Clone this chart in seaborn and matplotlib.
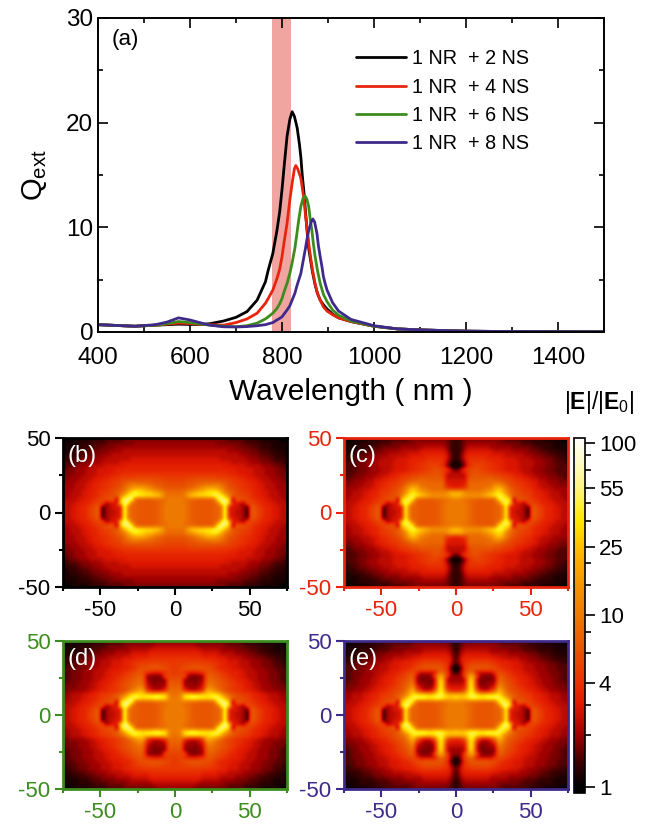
# Extinction spectra and near-field maps, 1 nanorod + nanospheres

import numpy as np
import pandas as pd
import matplotlib
matplotlib.use('Agg')
import matplotlib.pyplot as plt
import seaborn as sns
from matplotlib.cm import ScalarMappable
from matplotlib.colors import LinearSegmentedColormap, LogNorm
from matplotlib.ticker import MultipleLocator, NullFormatter

sns.set_theme(style='ticks')
plt.rcParams['font.family'] = ['Liberation Sans', 'DejaVu Sans']
plt.rcParams['axes.unicode_minus'] = False
plt.rcParams['mathtext.fontset'] = 'custom'
plt.rcParams['mathtext.rm'] = 'Liberation Sans'
plt.rcParams['mathtext.bf'] = 'Liberation Sans:bold'

W, H = 648, 826

# Panel (a) spectra
wl_2ns = [400, 480, 525, 550, 575, 600, 625, 644, 673, 700, 724, 746, 764, 770, 780, 789, 795, 800, 805, 811, 817, 822, 827, 833, 838, 841, 844, 848, 852, 855, 858, 862, 866, 872, 877, 883, 890, 898, 910, 923, 950, 1000, 1050, 1100, 1200, 1300, 1500]
q_2ns = [0.7, 0.55, 0.65, 0.7, 0.75, 0.72, 0.72, 0.8, 1.05, 1.4, 1.95, 3.05, 4.8, 5.9, 7.5, 9.7, 11.5, 13.6, 16.0, 18.7, 20.3, 21.05, 20.6, 19.5, 17.9, 16.7, 15.0, 13.2, 11.0, 9.4, 8.0, 6.9, 5.8, 4.5, 3.7, 3.05, 2.6, 2.2, 1.7, 1.35, 1.0, 0.55, 0.3, 0.2, 0.08, 0.04, 0.02]
wl_4ns = [400, 480, 525, 550, 575, 600, 625, 644, 673, 700, 724, 746, 764, 770, 780, 789, 795, 800, 805, 811, 817, 822, 827, 830, 834, 841, 848, 851, 855, 858, 862, 866, 872, 877, 883, 890, 898, 910, 923, 950, 1000, 1050, 1100, 1200, 1300, 1500]
q_4ns = [0.7, 0.55, 0.65, 0.75, 0.85, 0.8, 0.72, 0.7, 0.65, 0.9, 1.25, 1.8, 2.75, 3.2, 4.0, 5.1, 6.0, 7.2, 8.7, 10.4, 12.6, 14.2, 15.6, 15.9, 15.6, 14.7, 12.6, 11.2, 9.7, 8.5, 7.2, 6.0, 4.6, 3.7, 3.05, 2.4, 2.0, 1.65, 1.35, 1.0, 0.55, 0.3, 0.2, 0.08, 0.04, 0.02]
wl_6ns = [400, 480, 525, 550, 575, 600, 625, 644, 673, 700, 724, 746, 764, 770, 780, 789, 795, 800, 805, 811, 817, 822, 828, 833, 837, 841, 846, 850, 854, 858, 861, 865, 868, 872, 877, 883, 890, 898, 910, 923, 950, 1000, 1050, 1100, 1200, 1300, 1500]
q_6ns = [0.7, 0.55, 0.65, 0.8, 1.0, 0.9, 0.75, 0.65, 0.55, 0.5, 0.6, 0.85, 1.25, 1.45, 1.8, 2.25, 2.7, 3.2, 3.9, 4.65, 5.6, 6.6, 8.0, 9.6, 10.9, 12.0, 12.8, 13.0, 12.7, 12.0, 10.9, 9.7, 8.5, 7.2, 5.9, 4.65, 3.6, 2.9, 2.1, 1.6, 1.05, 0.55, 0.3, 0.2, 0.08, 0.04, 0.02]
wl_8ns = [400, 480, 525, 550, 575, 600, 625, 644, 673, 700, 724, 746, 764, 780, 789, 795, 800, 805, 811, 817, 822, 828, 833, 841, 846, 851, 854, 858, 864, 867, 871, 876, 879, 883, 887, 890, 894, 898, 910, 923, 950, 1000, 1050, 1100, 1200, 1300, 1500]
q_8ns = [0.7, 0.55, 0.7, 0.95, 1.35, 1.15, 0.85, 0.65, 0.5, 0.48, 0.52, 0.6, 0.7, 0.9, 1.15, 1.3, 1.45, 1.75, 2.1, 2.5, 3.05, 3.7, 4.5, 5.6, 6.8, 8.0, 8.8, 9.7, 10.6, 10.8, 10.5, 9.4, 8.3, 7.2, 6.2, 5.3, 4.6, 4.0, 2.8, 2.0, 1.2, 0.6, 0.3, 0.2, 0.08, 0.04, 0.02]

series_names = ['1 NR  + 2 NS', '1 NR  + 4 NS', '1 NR  + 6 NS', '1 NR  + 8 NS']
series_colors = ['#000000', '#e8250c', '#3c8c1e', '#3f2a8c']
band_nm = [779, 820]

# Field maps, upper right quadrant read by eye, one letter per 2.5 nm cell.
# Rows y = 48.75 ... 1.25, cols x = 1.25 ... 73.75 nm, letters index field_levels.
level_keys = '0123456789abcdefghijklmnopqr'
field_levels = [1.0, 1.15, 1.3, 1.5, 1.75, 2.0, 2.4, 2.9, 3.4, 3.9, 4.5, 5.1, 5.8, 6.5, 7.3, 8, 9, 10, 12, 15, 20, 25, 30, 35, 40, 50, 60, 75]

field_b = [
    '444444444444443333322221111100',
    '555555555554444444333322221111',
    '555555555555555544443332221111',
    '666666666666665555444433322211',
    '666666666666666665554443332221',
    '777777777777666666655544433222',
    '777777777777777666665554443332',
    '888888888888877777766665554433',
    '888888888888888877777666555443',
    '999999999999998887777666555444',
    'aaaabbbbbbbaaaa998877766655544',
    'bbbcccdddddddcbaa9988776665554',
    'cccddeffgghhfecbaa998877666555',
    'dddefgijkkkjifdcba998877666555',
    'ffgijkllmnonkhfdcbaa9887766655',
    'gggkmmnnooppolhecbba9887766655',
    'hhgfeeddddepqpn2edcba988776665',
    'hhgfedddddefpqn7765cba98877666',
    'hhhfedddddeegr777652eca9887766',
    'hhhfedddddeehr776651ecb9887766',
]
field_c = [
    '234444444444433333222221111100',
    '234555555554444443333222221111',
    '235666666555555444443332221111',
    '236777777766666555544433322211',
    '247888888777766666555444333222',
    '247999998888777766665554443322',
    '1369aaaa9988877776666555443332',
    '0159abbaa998877776666555444333',
    '37abccbaa998877776665554443333',
    '667bcdccbbaa998877666555444333',
    '666cddddddccbaa988776655544433',
    '777eeeeeffeedcba99887766555444',
    '778ffffffgiigecbaa988766655544',
    '89affffghiklkhecba998776665555',
    'kkihhhhijklnlifdcbaa9887766655',
    'lkjjjjjklmopolhecbba9887766655',
    'hhgfeeddddeopon2edcba988776665',
    'hhgfedddddefopn7765cba98877666',
    'hhhfedddddeegq777652eca9887766',
    'hhhfedddddeehq776651ecb9887766',
]
field_d = [
    '555554444444443333322221111100',
    '666666555555544444333322221111',
    '777777766666555544443332221111',
    '888888877777666655544433322211',
    '999999988887776666555444333222',
    'aaaaaaaaa999887776665554443322',
    'aabbcccbbba9887776665554443332',
    'abcdddddcca9888777666555444333',
    'ab987789cdcba98887766655544433',
    'bbc54445dedcba9887766655544433',
    'cd544455efedcba988776655544433',
    'de555456fgfedcba98877665554443',
    'ef655567higedcba99877665554444',
    'fga7667akkjhecba99887766555544',
    'ghmnonnnmnonkhfdcbaa9887766655',
    'hinoppoonoppolhecbba9887766655',
    'hhgfeeddddepqpn2edcba988776665',
    'hhgfedddddefpqn7765cba98877666',
    'hhhfedddddeegr777652eca9887766',
    'hhhfedddddeehr776651ecb9887766',
]
field_e = [
    '234444444444333333322221111100',
    '245555555554444443333222221111',
    '256666666555554444333322221111',
    '367777777666665555544433322211',
    '378888888877666665554443332222',
    '4799aaaaa998887776655544433322',
    '26abcccccba9888777666555444333',
    '04acdddddcca988777666555444333',
    '26bef766669cba9887766655544433',
    '55cjkc54446edba988776655544433',
    '556lm644445fecba98877665554433',
    '667mn744556hfdca98877665554443',
    '778mn855569jgecba9887766555444',
    '89enog766aeljfdcba988776655544',
    'lllopnmmnnonkhfdcbaa9887766655',
    'mlmoppooppppolhecbba9887766655',
    'hhgfeeddddeopon2edcba988776665',
    'hhgfedddddefpqn7765cba98877666',
    'hhhfedddddeegq777652eca9887766',
    'hhhfedddddeehq776651ecb9887766',
]
panel_letters = ['(b)', '(c)', '(d)', '(e)']
panel_fields = [field_b, field_c, field_d, field_e]
# left, top, right, bottom of each map in pixels
panel_boxes = [(63, 438, 287, 587), (344, 438, 568, 587), (63, 641, 287, 789), (344, 641, 568, 789)]

# Colour scale of the maps
cbar_ticks = [1, 4, 10, 25, 55, 100]
cbar_minor = [2, 3, 6, 8, 15, 20, 35, 45, 70, 85]
cbar_range = [0.92, 107]
scale_values = [0.92, 1, 1.4, 2, 3, 4, 6, 10, 15, 20, 25, 35, 45, 55, 70, 107]
scale_colors = ['#000000', '#000000', '#400000', '#a00000', '#e01800', '#ea3000', '#e85000', '#ef7a00',
                '#f59500', '#fbaa00', '#ffc000', '#ffe600', '#fff040', '#fff480', '#fff9b0', '#ffffff']


def add_axes_px(fig, left, top, right, bottom):
    return fig.add_axes([left / W, 1 - bottom / H, (right - left) / W, (bottom - top) / H])


def read_quadrant(rows):
    return np.array([[field_levels[level_keys.index(c)] for c in row] for row in rows])


log_lo, log_hi = np.log10(cbar_range)
stops = [(np.log10(v) - log_lo) / (log_hi - log_lo) for v in scale_values]
field_cmap = LinearSegmentedColormap.from_list('field', list(zip(stops, scale_colors)), N=512)

fig = plt.figure(figsize=(W / 100, H / 100), dpi=100, facecolor='white')

# Panel (a)
frames = []
for name, wl, q in zip(series_names, [wl_2ns, wl_4ns, wl_6ns, wl_8ns], [q_2ns, q_4ns, q_6ns, q_8ns]):
    frames.append(pd.DataFrame({'wavelength': wl, 'qext': q, 'series': name}))
df = pd.concat(frames)

ax = add_axes_px(fig, 98, 18, 604, 332)
ax.axvspan(band_nm[0], band_nm[1], color='#f0a5a0', lw=0, zorder=0)
sns.lineplot(data=df, x='wavelength', y='qext', hue='series', palette=series_colors, estimator=None,
             sort=False, linewidth=2.0, ax=ax)
ax.set_xlim(400, 1500)
ax.set_ylim(0, 30)
ax.xaxis.set_minor_locator(MultipleLocator(100))
ax.yaxis.set_major_locator(MultipleLocator(10))
ax.yaxis.set_minor_locator(MultipleLocator(5))
ax.set_xticks([400, 600, 800, 1000, 1200, 1400])
ax.tick_params(which='major', direction='in', top=True, right=True, length=7, width=1.2,
               labelsize=17.5, color='black', labelcolor='black')
ax.tick_params(axis='x', which='major', pad=11)
ax.tick_params(which='minor', direction='in', top=True, right=True, length=3.5, width=1.2, color='black')
for s in ax.spines.values():
    s.set_linewidth(1.4)
    s.set_color('black')
ax.set_xlabel('Wavelength ( nm )', fontsize=21.5, labelpad=6, color='black')
ax.set_ylabel(r'Q$_{\mathrm{ext}}$', fontsize=21, labelpad=12, color='black')
ax.text(112 / W, 1 - 40 / H, '(a)', transform=fig.transFigure, fontsize=16, va='center', color='black')
ax.legend(frameon=False, loc='upper left', bbox_to_anchor=(0.51, 0.90), fontsize=14.2, handlelength=2.55,
          handletextpad=0.3, labelspacing=0.47, borderpad=0, borderaxespad=0)
for line in ax.get_legend().get_lines():
    line.set_linewidth(2.0)
for t in ax.get_legend().get_texts():
    t.set_color('black')

# Panels (b) to (e), quadrants mirrored into the full map
for letter, field, box, color in zip(panel_letters, panel_fields, panel_boxes, series_colors):
    quad = read_quadrant(field)
    upper = np.hstack([quad[:, ::-1], quad])
    full = np.vstack([upper, upper[::-1]])
    axm = add_axes_px(fig, *box)
    axm.imshow(np.log10(full), extent=[-75, 75, -50, 50], aspect='auto', cmap=field_cmap,
               vmin=log_lo, vmax=log_hi, interpolation='bicubic')
    axm.set_xticks([-50, 0, 50])
    axm.set_yticks([-50, 0, 50])
    axm.set_xticks([-75, -25, 25, 75], minor=True)
    axm.set_yticks([-25, 25], minor=True)
    axm.set_xlim(-75, 75)
    axm.set_ylim(-50, 50)
    axm.tick_params(which='major', direction='out', length=6, width=1.5, color=color,
                    labelcolor=color, labelsize=16)
    axm.tick_params(axis='x', which='major', pad=3)
    axm.tick_params(axis='y', which='major', pad=3)
    axm.tick_params(which='minor', direction='out', length=3, width=1.5, color=color)
    axm.grid(False)
    for s in axm.spines.values():
        s.set_linewidth(2)
        s.set_color(color)
    axm.text(0.02, 0.955, letter, transform=axm.transAxes, color='white', fontsize=17, va='top')

# Colour bar
cax = add_axes_px(fig, 574, 438, 585, 793)
cb = fig.colorbar(ScalarMappable(norm=LogNorm(*cbar_range), cmap=field_cmap), cax=cax)
cb.set_ticks(cbar_ticks)
cb.set_ticklabels([str(v) for v in cbar_ticks])
cax.yaxis.set_ticks(cbar_minor, minor=True)
cax.yaxis.set_minor_formatter(NullFormatter())
cax.tick_params(which='major', direction='out', length=7, width=1.2, color='black', labelsize=16, pad=3,
                labelcolor='black', right=True)
cax.tick_params(which='minor', direction='out', length=4, width=1.2, color='black', right=True)
cb.outline.set_linewidth(1.2)
cb.outline.set_edgecolor('black')
fig.text(599 / W, 1 - 403 / H, r'$|\mathbf{E}|/|\mathbf{E}_{0}|$', fontsize=16.5, ha='center', va='center',
         color='black')

fig.savefig('out.png', dpi=100)
